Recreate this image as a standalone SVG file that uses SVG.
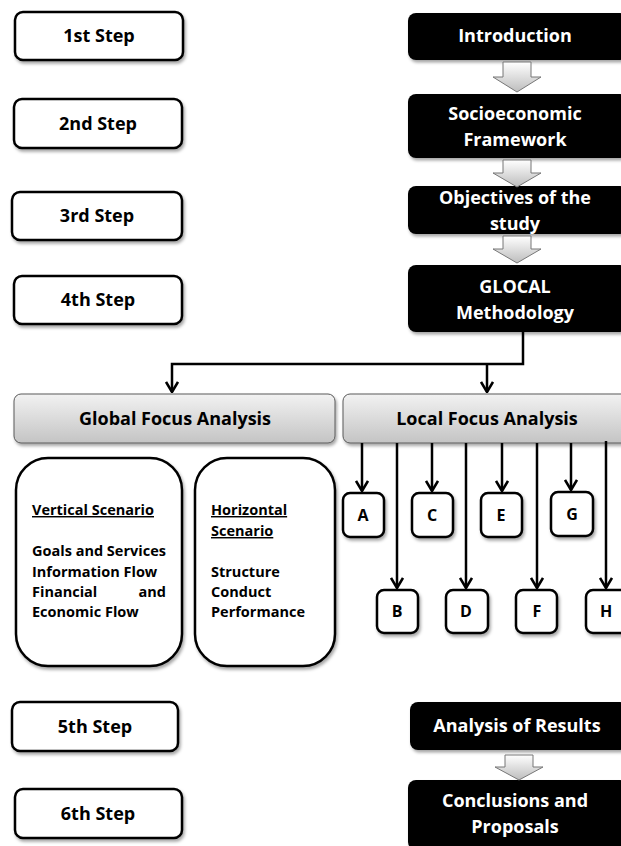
<svg xmlns="http://www.w3.org/2000/svg" width="621" height="846" viewBox="0 0 621 846">
<defs>
<linearGradient id="gFocus" x1="0" y1="0" x2="0" y2="1">
<stop offset="0" stop-color="#f2f2f2"/><stop offset="1" stop-color="#c4c4c4"/>
</linearGradient>
<linearGradient id="gArrow" x1="0" y1="0" x2="0" y2="1">
<stop offset="0" stop-color="#ffffff"/><stop offset="1" stop-color="#bdbdbd"/>
</linearGradient>
<filter id="sh" x="-10%" y="-10%" width="130%" height="140%">
<feDropShadow dx="1.5" dy="2.5" stdDeviation="1.8" flood-color="#000" flood-opacity="0.35"/>
</filter>
<marker id="ah" viewBox="0 0 12 14" refX="11" refY="7" markerWidth="12" markerHeight="14" markerUnits="userSpaceOnUse" orient="auto">
<path d="M1,1 L11,7 L1,13" fill="none" stroke="#000" stroke-width="2.6"/>
</marker>
</defs>
<style>
text{font-family:"Open Sans",Lato,"Liberation Sans",sans-serif;font-weight:bold;}
.step{fill:#fff;stroke:#000;stroke-width:2.5;filter:url(#sh);}
.stept{font-size:18px;fill:#000;text-anchor:middle;}
.blk{fill:#000;filter:url(#sh);}
.blkt{font-size:18px;fill:#fff;text-anchor:middle;}
.focus{fill:url(#gFocus);stroke:#5a5a5a;stroke-width:1;filter:url(#sh);}
.focust{font-size:18px;fill:#000;text-anchor:middle;}
.scen{fill:#fff;stroke:#000;stroke-width:2.5;filter:url(#sh);}
.sct{font-size:14.5px;fill:#000;}
.ul{text-decoration:underline;}
.bar{fill:url(#gArrow);stroke:#777;stroke-width:1;}
.let{fill:#fff;stroke:#000;stroke-width:2.5;filter:url(#sh);}
.lett{font-size:16px;fill:#000;text-anchor:middle;}
.con{fill:none;stroke:#000;stroke-width:2.5;}
</style>

<g id="step1"><rect class="step" x="15" y="12" width="168" height="48" rx="8"/><text class="stept" x="99" y="42">1st Step</text></g>
<g id="step2"><rect class="step" x="14" y="99" width="168" height="49" rx="8"/><text class="stept" x="98" y="130">2nd Step</text></g>
<g id="step3"><rect class="step" x="12" y="192" width="170" height="48" rx="8"/><text class="stept" x="97" y="222">3rd Step</text></g>
<g id="step4"><rect class="step" x="14" y="276" width="168" height="48" rx="8"/><text class="stept" x="98" y="306">4th Step</text></g>
<g id="step5"><rect class="step" x="12" y="702" width="166" height="49" rx="8"/><text class="stept" x="95" y="733">5th Step</text></g>
<g id="step6"><rect class="step" x="15" y="789" width="167" height="49" rx="8"/><text class="stept" x="98" y="820">6th Step</text></g>

<g id="introduction"><rect class="blk" x="408" y="13" width="220" height="47" rx="8"/><text class="blkt" x="515" y="42">Introduction</text></g>
<g id="socioeconomic"><rect class="blk" x="408" y="94" width="220" height="64" rx="8"/><text class="blkt" x="515" y="120">Socioeconomic</text><text class="blkt" x="515" y="146">Framework</text></g>
<g id="objectives"><rect class="blk" x="408" y="186" width="220" height="48" rx="8"/><text class="blkt" x="515" y="204">Objectives of the</text><text class="blkt" x="515" y="230">study</text></g>
<g id="glocal"><rect class="blk" x="408" y="265" width="220" height="67" rx="8"/><text class="blkt" x="515" y="293">GLOCAL</text><text class="blkt" x="515" y="319">Methodology</text></g>
<g id="analysis"><rect class="blk" x="410" y="702" width="218" height="48" rx="8"/><text class="blkt" x="517" y="732">Analysis of Results</text></g>
<g id="conclusions"><rect class="blk" x="408" y="780" width="220" height="70" rx="8"/><text class="blkt" x="515" y="807">Conclusions and</text><text class="blkt" x="515" y="833">Proposals</text></g>

<g id="global"><rect class="focus" x="14" y="394" width="321" height="49" rx="7"/><text class="focust" x="175" y="425">Global Focus Analysis</text></g>
<g id="local"><rect class="focus" x="343" y="394" width="290" height="49" rx="7"/><text class="focust" x="487" y="425">Local Focus Analysis</text></g>

<g id="vertical"><rect class="scen" x="16" y="458" width="166" height="208" rx="32"/>
<text class="sct ul" x="32" y="515">Vertical Scenario</text>
<text class="sct" x="32" y="556">Goals and Services</text>
<text class="sct" x="32" y="577">Information Flow</text>
<text class="sct" x="32" y="597">Financial</text><text class="sct" x="166" y="597" text-anchor="end">and</text>
<text class="sct" x="32" y="617">Economic Flow</text>
</g>
<g id="horizontal"><rect class="scen" x="195" y="458" width="140" height="208" rx="32"/>
<text class="sct ul" x="211" y="515">Horizontal</text>
<text class="sct ul" x="211" y="536">Scenario</text>
<text class="sct" x="211" y="577">Structure</text>
<text class="sct" x="211" y="597">Conduct</text>
<text class="sct" x="211" y="617">Performance</text>
</g>

<g id="nodeA"><rect class="let" x="343" y="493" width="41" height="44" rx="7"/><text class="lett" x="363" y="521">A</text></g>
<g id="nodeC"><rect class="let" x="412" y="493" width="41" height="44" rx="7"/><text class="lett" x="432" y="521">C</text></g>
<g id="nodeE"><rect class="let" x="481" y="493" width="41" height="44" rx="7"/><text class="lett" x="501" y="521">E</text></g>
<g id="nodeG"><rect class="let" x="551" y="492" width="42" height="44" rx="7"/><text class="lett" x="572" y="520">G</text></g>
<g id="nodeB"><rect class="let" x="377" y="590" width="41" height="43" rx="7"/><text class="lett" x="397" y="617">B</text></g>
<g id="nodeD"><rect class="let" x="446" y="590" width="42" height="43" rx="7"/><text class="lett" x="466" y="617">D</text></g>
<g id="nodeF"><rect class="let" x="516" y="590" width="41" height="43" rx="7"/><text class="lett" x="537" y="617">F</text></g>
<g id="nodeH"><rect class="let" x="586" y="590" width="42" height="43" rx="7"/><text class="lett" x="606" y="617">H</text></g>

<g id="connectors">
<path class="bar" d="M503,62 H531 V77 H541 L517,92 L493,77 H503 Z"/>
<path class="bar" d="M503,160 H531 V173 H541 L517,187 L493,173 H503 Z"/>
<path class="bar" d="M503,236 H531 V249 H541 L517,263 L493,249 H503 Z"/>
<path class="bar" d="M505,755 H533 V767 H543 L519,780 L495,767 H505 Z"/>
<path class="con" d="M523,332 V364 H172 V392" marker-end="url(#ah)"/>
<path class="con" d="M487,364 V392" marker-end="url(#ah)"/>
<path class="con" d="M362,443 V491" marker-end="url(#ah)"/>
<path class="con" d="M432,443 V491" marker-end="url(#ah)"/>
<path class="con" d="M502,443 V491" marker-end="url(#ah)"/>
<path class="con" d="M571,443 V490" marker-end="url(#ah)"/>
<path class="con" d="M397,443 V588" marker-end="url(#ah)"/>
<path class="con" d="M466,443 V588" marker-end="url(#ah)"/>
<path class="con" d="M537,443 V588" marker-end="url(#ah)"/>
<path class="con" d="M606,441 V588" marker-end="url(#ah)"/>
</g>
</svg>
